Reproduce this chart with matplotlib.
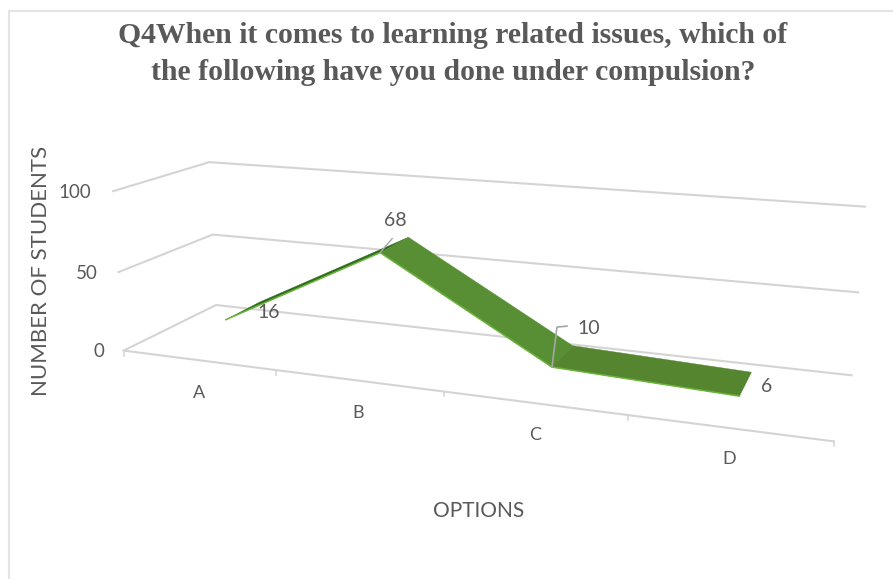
import matplotlib
matplotlib.use("Agg")
import matplotlib.pyplot as plt
import numpy as np

plt.rcParams["font.family"] = ["Lato", "DejaVu Sans"]

# chart data
categories = ["A", "B", "C", "D"]
students = [16, 68, 10, 6]
value_ticks = [0, 50, 100]

title = "Q4When it comes to learning related issues, which of\nthe following have you done under compulsion?"
xlabel = "OPTIONS"
ylabel = "NUMBER OF STUDENTS"

grid_col = "#d4d4d4"
text_col = "#595959"

# box corners as seen in the picture: (category pos, depth, value) -> pixel
box_3d = [(0, 0, 0), (1, 0, 0), (2, 0, 0), (3, 0, 0), (4, 0, 0),
          (0, 1, 0), (4, 1, 0), (0, 0, 50), (0, 1, 50), (4, 1, 50),
          (0, 0, 100), (0, 1, 100), (4, 1, 100)]
box_px = [(124, 350), (277, 370), (443, 392), (628, 417), (834, 440),
          (216, 305), (852, 375), (118, 272), (212, 235), (858, 292),
          (113, 191), (210, 162), (865, 207)]


def fit_camera(pts, px):
    rows = []
    for (x, d, z), (u, v) in zip(pts, px):
        z = z / 100
        rows.append([x, d, z, 1, 0, 0, 0, 0, -u * x, -u * d, -u * z, -u])
        rows.append([0, 0, 0, 0, x, d, z, 1, -v * x, -v * d, -v * z, -v])
    return np.linalg.svd(np.array(rows))[2][-1].reshape(3, 4)


cam = fit_camera(box_3d, box_px)


def project(x, d, z):
    p = cam @ np.array([x, d, z / 100, 1.0])
    return p[0] / p[2], p[1] / p[2]


fig = plt.figure(figsize=(8.93, 5.79), dpi=100)
ax = fig.add_axes([0, 0, 1, 1])
ax.set_xlim(0, 893)
ax.set_ylim(579, 0)
ax.axis("off")

# picture frame
ax.plot([9, 9, 893], [579, 11, 11], color="#e4e4e4", lw=1.6)

# walls and floor
tick_right = {0: 104, 50: 98, 100: 91}
for val in value_ticks:
    pts = [project(0, 0, val), project(0, 1, val), project(4, 1, val)]
    ax.plot(*zip(*pts), color=grid_col, lw=1.5, zorder=1)
    y0 = project(0, 0, val)[1]
    ax.text(tick_right[val], y0 + 1, str(val), ha="right", va="center", fontsize=13.5, color=text_col)
ax.plot(*zip(project(0, 0, 0), project(4, 0, 0)), color=grid_col, lw=1.5, zorder=1)
for i in range(5):
    x0, y0 = project(i, 0, 0)
    ax.plot([x0, x0], [y0, y0 + 5], color=grid_col, lw=1.1, zorder=1)

# ribbon
d_front, d_back = 0.31, 0.70
shades = ["#2f6b1c", "#588f34", "#55852f"]
xpos = np.arange(len(categories)) + 0.5
for i in range(len(students) - 1):
    poly = [project(xpos[i], d_front, students[i]), project(xpos[i + 1], d_front, students[i + 1]),
            project(xpos[i + 1], d_back, students[i + 1]), project(xpos[i], d_back, students[i])]
    ax.fill(*zip(*poly), color=shades[i], lw=0.3, zorder=3)
front = [project(x, d_front, v) for x, v in zip(xpos, students)]
ax.plot(*zip(*front), color="#6cb43c", lw=1.1, zorder=4, solid_joinstyle="round")

# leader lines
bx, by = project(xpos[1], d_front, students[1])
ax.plot([bx, bx + 12], [by, by - 14], color="#a6a6a6", lw=1, zorder=5)
cx, cy = project(xpos[2], d_front, students[2])
ax.plot([cx, cx + 5, cx + 15], [cy, cy - 40, cy - 41], color="#a6a6a6", lw=1.2, zorder=5)

# labels
label_pos = [(269, 312), (395, 221), (589, 328), (767, 386)]
for (lx, ly), v in zip(label_pos, students):
    ax.text(lx, ly, str(v), ha="center", va="center", fontsize=14, color=text_col, zorder=6)
cat_pos = [(199, 393), (358, 413), (535, 435), (729, 459)]
for (lx, ly), c in zip(cat_pos, categories):
    ax.text(lx, ly, c, ha="center", va="center", fontsize=13, color=text_col)

ax.text(453, 54, title, ha="center", va="center", fontsize=21.4, fontweight="bold",
        family=["Liberation Serif"], color=text_col, linespacing=1.47)
ax.text(479, 511, xlabel, ha="center", va="center", fontsize=15, color=text_col)
ax.text(41, 271, ylabel, ha="center", va="center", rotation=90, fontsize=16, color=text_col)

fig.savefig("out.png", dpi=100)
